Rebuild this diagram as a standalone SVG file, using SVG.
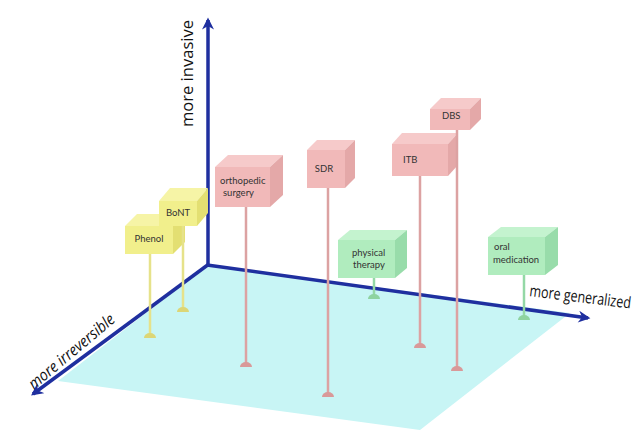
<svg xmlns="http://www.w3.org/2000/svg" width="641" height="434" viewBox="0 0 641 434">
<style>
.pf{fill:#f1b9b9}.pt{fill:#f6caca}.ps{fill:#e4a8a8}
.yf{fill:#f1ef8c}.yt{fill:#f6f4a6}.ys{fill:#e3df72}
.gf{fill:#b0ecbe}.gt{fill:#c4f3cf}.gs{fill:#98dcaa}
.ps-stem{stroke:#dca2a2;stroke-width:2.5}
.ys-stem{stroke:#e6e28a;stroke-width:2.5}
.gs-stem{stroke:#94d8a6;stroke-width:2.5}
.pd{fill:#d99999}.yd{fill:#dcd676}.gd{fill:#8ed3a0}
.lbl{font-family:Lato,"Open Sans",sans-serif;font-size:9.5px;fill:#333}
.ax{font-family:"Open Sans",Lato,sans-serif;font-size:16px;fill:#111}
.axis{stroke:#1f2f9f;stroke-width:3.5;fill:none}
</style>
<defs>
<marker id="ah" viewBox="0 0 10 10" refX="8" refY="5" markerWidth="13" markerHeight="12" markerUnits="userSpaceOnUse" orient="auto">
<path d="M0,0 L10,5 L0,10 L3,5 Z" fill="#1f2f9f"/>
</marker>
</defs>
<rect width="641" height="434" fill="#fff"/>
<polygon points="208,265 570,313 420,430 58,381" fill="#c8f5f5"/>
<g id="connectors">
<line class="axis" x1="208" y1="266" x2="208" y2="20" marker-end="url(#ah)"/>
<line class="axis" x1="207" y1="265" x2="588" y2="318" marker-end="url(#ah)"/>
<line class="axis" x1="209" y1="264" x2="33" y2="394" marker-end="url(#ah)"/>
</g>
<text class="ax" transform="translate(193,127) rotate(-90)" textLength="107" lengthAdjust="spacingAndGlyphs">more invasive</text>
<text class="ax" font-style="italic" transform="translate(34,390) rotate(-40)" textLength="107" lengthAdjust="spacingAndGlyphs">more irreversible</text>
<text class="ax" transform="translate(529,296) rotate(7)" textLength="102" lengthAdjust="spacingAndGlyphs">more generalized</text>

<g id="phenol">
<line class="ys-stem" x1="150" y1="254" x2="150" y2="337"/>
<path class="yd" d="M144,338 A6,5 0 0 1 156,338 Z"/>
<polygon class="yt" points="125,226 137,214 185,214 173,226"/>
<polygon class="ys" points="173,226 185,214 185,242 173,254"/>
<rect class="yf" x="125" y="226" width="48" height="28"/>
<text class="lbl" x="149" y="242" text-anchor="middle">Phenol</text>
</g>
<g id="bont">
<line class="ys-stem" x1="183" y1="226" x2="183" y2="311"/>
<path class="yd" d="M177,312 A6,5 0 0 1 189,312 Z"/>
<polygon class="yt" points="159,201 170,188 208,188 197,201"/>
<polygon class="ys" points="197,201 208,188 208,213 197,226"/>
<rect class="yf" x="159" y="201" width="38" height="25"/>
<text class="lbl" x="178" y="216" text-anchor="middle">BoNT</text>
</g>
<g id="orthopedic">
<line class="ps-stem" x1="246" y1="207" x2="246" y2="366"/>
<path class="pd" d="M240,367 A6,5 0 0 1 252,367 Z"/>
<polygon class="pt" points="215,167 228,155 283,155 270,167"/>
<polygon class="ps" points="270,167 283,155 283,195 270,207"/>
<rect class="pf" x="215" y="167" width="55" height="40"/>
<text class="lbl" x="220" y="184">orthopedic</text>
<text class="lbl" x="223" y="196">surgery</text>
</g>
<g id="sdr">
<line class="ps-stem" x1="328" y1="188" x2="328" y2="396"/>
<path class="pd" d="M322,397 A6,5 0 0 1 334,397 Z"/>
<polygon class="pt" points="307,150 317,140 355,140 345,150"/>
<polygon class="ps" points="345,150 355,140 355,178 345,188"/>
<rect class="pf" x="307" y="150" width="38" height="38"/>
<text class="lbl" x="324" y="172" text-anchor="middle">SDR</text>
</g>
<g id="itb">
<line class="ps-stem" x1="420" y1="176" x2="420" y2="347"/>
<path class="pd" d="M414,348 A6,5 0 0 1 426,348 Z"/>
<polygon class="pt" points="392,144 402,133 458,133 448,144"/>
<polygon class="ps" points="448,144 458,133 458,165 448,176"/>
<rect class="pf" x="392" y="144" width="56" height="32"/>
<text class="lbl" x="403" y="163">ITB</text>
</g>
<g id="dbs">
<line class="ps-stem" x1="457" y1="130" x2="457" y2="370"/>
<path class="pd" d="M451,371 A6,5 0 0 1 463,371 Z"/>
<polygon class="pt" points="430,109 441,98 481,98 470,109"/>
<polygon class="ps" points="470,109 481,98 481,119 470,130"/>
<rect class="pf" x="430" y="109" width="40" height="21"/>
<text class="lbl" x="442" y="119">DBS</text>
</g>
<g id="physical-therapy">
<line class="gs-stem" x1="374" y1="278" x2="374" y2="298"/>
<path class="gd" d="M368,299 A6,5 0 0 1 380,299 Z"/>
<polygon class="gt" points="338,240 350,230 407,230 395,240"/>
<polygon class="gs" points="395,240 407,230 407,268 395,278"/>
<rect class="gf" x="338" y="240" width="57" height="38"/>
<text class="lbl" x="352" y="256">physical</text>
<text class="lbl" x="353" y="268">therapy</text>
</g>
<g id="oral-medication">
<line class="gs-stem" x1="524" y1="275" x2="524" y2="319"/>
<path class="gd" d="M518,320 A6,5 0 0 1 530,320 Z"/>
<polygon class="gt" points="488,237 501,227 558,227 545,237"/>
<polygon class="gs" points="545,237 558,227 558,265 545,275"/>
<rect class="gf" x="488" y="237" width="57" height="38"/>
<text class="lbl" x="494" y="250">oral</text>
<text class="lbl" x="493" y="263">medication</text>
</g>
</svg>
